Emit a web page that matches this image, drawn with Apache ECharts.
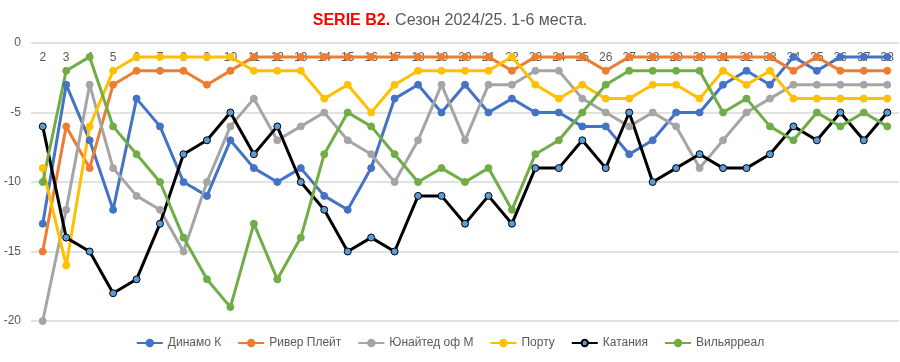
<!DOCTYPE html>
<html><head><meta charset="utf-8">
<script src="https://cdn.jsdelivr.net/npm/echarts@6/dist/echarts.min.js"></script>
<style>html,body{margin:0;padding:0;background:#fff}#c{width:900px;height:362px}</style>
</head><body><div id="c"></div>
<script>
const rounds = ['2','3','4','5','6','7','8','9','10','11','12','13','14','15','16','17','18','19','20','21','22','23','24','25','26','27','28','29','30','31','32','33','34','35','36','37','38'];
const dinamo   = [-13,-3,-7,-12,-4,-6,-10,-11,-7,-9,-10,-9,-11,-12,-9,-4,-3,-5,-3,-5,-4,-5,-5,-6,-6,-8,-7,-5,-5,-3,-2,-3,-1,-2,-1,-1,-1];
const river    = [-15,-6,-9,-3,-2,-2,-2,-3,-2,-1,-1,-1,-1,-1,-1,-1,-1,-1,-1,-1,-2,-1,-1,-1,-2,-1,-1,-1,-1,-1,-1,-1,-2,-1,-2,-2,-2];
const united   = [-20,-12,-3,-9,-11,-12,-15,-10,-6,-4,-7,-6,-5,-7,-8,-10,-7,-3,-7,-3,-3,-2,-2,-4,-5,-6,-5,-6,-9,-7,-5,-4,-3,-3,-3,-3,-3];
const porto    = [-9,-16,-6,-2,-1,-1,-1,-1,-1,-2,-2,-2,-4,-3,-5,-3,-2,-2,-2,-2,-1,-3,-4,-3,-4,-4,-3,-3,-4,-2,-3,-2,-4,-4,-4,-4,-4];
const catania  = [-6,-14,-15,-18,-17,-13,-8,-7,-5,-8,-6,-10,-12,-15,-14,-15,-11,-11,-13,-11,-13,-9,-9,-7,-9,-5,-10,-9,-8,-9,-9,-8,-6,-7,-5,-7,-5];
const villa    = [-10,-2,-1,-6,-8,-10,-14,-17,-19,-13,-17,-14,-8,-5,-6,-8,-10,-9,-10,-9,-12,-8,-7,-5,-3,-2,-2,-2,-2,-5,-4,-6,-7,-5,-6,-5,-6];
const names = ['Динамо К','Ривер Плейт','Юнайтед оф М','Порту','Катания','Вильярреал'];
const colors = ['#4472c4','#ed7d31','#a5a5a5','#ffc000','#000000','#70ad47'];
const dataSets = [dinamo, river, united, porto, catania, villa];

const series = dataSets.map((d,i)=>({
  name: names[i], type:'line', data:d, symbol:'circle', symbolSize:7,
  lineStyle:{color:colors[i], width:3},
  itemStyle: i===4 ? {color:'#5b9bd5', borderColor:'#000', borderWidth:1} : {color:colors[i], borderColor:colors[i], borderWidth:1},
  emphasis:{disabled:true}, animation:false
}));

const chart = echarts.init(document.getElementById('c'));
chart.setOption({
  animation:false,
  title:{
    text:'{a|SERIE B2.} {b|Сезон 2024/25. 1-6 места.}',
    left:'center', top:7,
    textStyle:{fontWeight:'normal', rich:{
      a:{color:'#ff0000', fontWeight:'bold', fontSize:16, fontFamily:'Liberation Sans, sans-serif'},
      b:{color:'#595959', fontWeight:'normal', fontSize:16, fontFamily:'Liberation Sans, sans-serif'}
    }}
  },
  legend:{
    bottom:8, left:'center', itemWidth:26, itemHeight:8, itemGap:16,
    textStyle:{color:'#595959', fontSize:12, fontFamily:'Liberation Sans, sans-serif'},
    data:names
  },
  grid:{left:31, right:1, top:43, bottom:41},
  xAxis:{
    type:'category', data:rounds, position:'top', boundaryGap:true,
    axisLine:{show:false}, axisTick:{show:false},
    axisLabel:{color:'#595959', fontSize:12, margin:-21, fontFamily:'Liberation Sans, sans-serif', interval:0},
    splitLine:{show:false}
  },
  yAxis:{
    type:'value', min:-20, max:0, interval:5,
    axisLine:{show:false}, axisTick:{show:false},
    axisLabel:{color:'#595959', fontSize:12, margin:10, fontFamily:'Liberation Sans, sans-serif'},
    splitLine:{lineStyle:{color:'#d9d9d9', width:1.5}}
  },
  series: series
});
</script></body></html>
